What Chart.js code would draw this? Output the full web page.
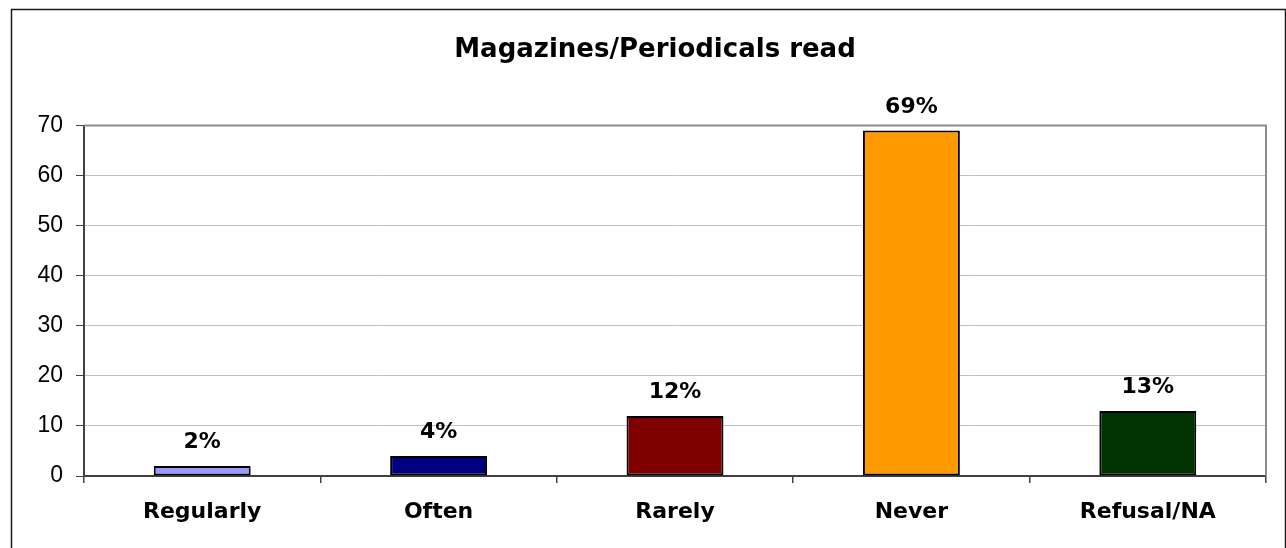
<!DOCTYPE html>
<html>
<head>
<meta charset="utf-8">
<script src="https://cdn.jsdelivr.net/npm/chart.js@4/dist/chart.umd.min.js"></script>
<style>
  html, body { margin: 0; padding: 0; background: #ffffff; }
  #wrap { width: 1286px; height: 548px; position: relative; }
</style>
</head>
<body>
<div id="wrap"><canvas id="chart" width="1286" height="548"></canvas></div>
<script>
// Survey answers: how often magazines / periodicals are read
const chartTitle = 'Magazines/Periodicals read';
const categories = ['Regularly', 'Often', 'Rarely', 'Never', 'Refusal/NA'];
const shares = [2, 4, 12, 69, 13];
const barColors = ['#9999FF', '#000080', '#800000', '#FF9900', '#003300'];
const yTicks = [0, 10, 20, 30, 40, 50, 60, 70];

const BOLD_FONT = '"DejaVu Sans", "Liberation Sans", Arial, sans-serif';
const PLAIN_FONT = '"Liberation Sans", Arial, sans-serif';

// Frame around the whole figure, the plot-area outline and the title
const framePlugin = {
  id: 'frame',
  beforeDraw(chart) {
    const ctx = chart.ctx;
    ctx.save();
    ctx.fillStyle = '#ffffff';
    ctx.fillRect(0, 0, chart.width, chart.height);
    ctx.strokeStyle = '#1a1a1a';
    ctx.lineWidth = 1.5;
    ctx.strokeRect(11.5, 9.5, 1274, 700);
    ctx.fillStyle = '#000000';
    ctx.font = 'bold 26px ' + BOLD_FONT;
    ctx.textAlign = 'center';
    ctx.textBaseline = 'alphabetic';
    ctx.fillText(chartTitle, 655, 57);
    ctx.restore();
  },
  afterDatasetsDraw(chart) {
    const { ctx, chartArea: a } = chart;
    ctx.save();
    ctx.strokeStyle = '#8c8c8c';
    ctx.lineWidth = 2;
    ctx.beginPath();
    ctx.moveTo(a.left, a.top);
    ctx.lineTo(a.right, a.top);
    ctx.lineTo(a.right, a.bottom);
    ctx.stroke();
    ctx.restore();
  }
};

// Percentage labels above each bar
const valueLabelPlugin = {
  id: 'valueLabels',
  afterDatasetsDraw(chart) {
    const ctx = chart.ctx;
    const meta = chart.getDatasetMeta(0);
    ctx.save();
    ctx.fillStyle = '#000000';
    ctx.font = 'bold 22px ' + BOLD_FONT;
    ctx.textAlign = 'center';
    ctx.textBaseline = 'alphabetic';
    meta.data.forEach((bar, i) => {
      const v = chart.data.datasets[0].data[i];
      ctx.fillText(v + '%', bar.x, bar.y - 18);
    });
    ctx.restore();
  }
};

new Chart(document.getElementById('chart'), {
  type: 'bar',
  data: {
    labels: categories,
    datasets: [{
      data: shares,
      backgroundColor: barColors,
      borderColor: '#000000',
      borderWidth: 2,
      borderSkipped: false,
      barPercentage: 0.41,
      categoryPercentage: 1.0
    }]
  },
  options: {
    responsive: false,
    animation: false,
    devicePixelRatio: 1,
    layout: { padding: { top: 125.5, right: 20, bottom: 0, left: 0 } },
    plugins: {
      legend: { display: false },
      title: { display: false },
      tooltip: { enabled: false }
    },
    scales: {
      x: {
        offset: true,
        afterFit(scale) { scale.height = 72; },
        grid: {
          offset: true,
          drawOnChartArea: false,
          drawTicks: true,
          tickLength: 7,
          color: '#404040',
          lineWidth: 1.5
        },
        border: { display: true, color: '#404040', width: 2 },
        ticks: {
          color: '#000000',
          padding: 16,
          maxRotation: 0,
          font: { family: BOLD_FONT, size: 22, weight: 'bold' }
        }
      },
      y: {
        min: 0,
        max: 70,
        afterFit(scale) { scale.width = 84; },
        afterBuildTicks(scale) { scale.ticks = yTicks.map(v => ({ value: v })); },
        grid: {
          color: '#c0c0c0',
          lineWidth: 1,
          tickColor: '#404040',
          tickLength: 8,
          drawTicks: true
        },
        border: { display: true, color: '#404040', width: 2 },
        ticks: {
          color: '#000000',
          padding: 13,
          font: { family: PLAIN_FONT, size: 23 }
        }
      }
    }
  },
  plugins: [framePlugin, valueLabelPlugin]
});
</script>
</body>
</html>
